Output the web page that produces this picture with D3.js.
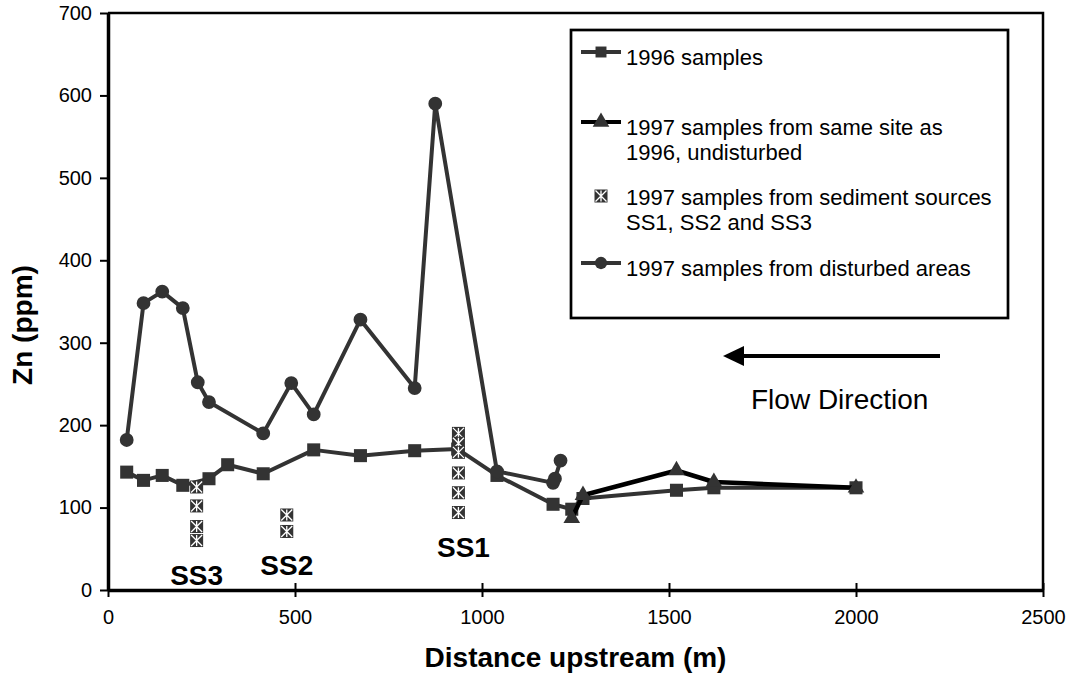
<!DOCTYPE html>
<html>
<head>
<meta charset="utf-8">
<script src="https://cdn.jsdelivr.net/npm/d3@7/dist/d3.min.js"></script>
<style>
  body { margin: 0; background: #fff; }
  svg text { font-family: Arial, "Liberation Sans", sans-serif; fill: #000; }
</style>
</head>
<body>
<div id="chart"></div>
<script>
// 1996 samples
const dist1996 = [50, 95, 145, 200, 270, 320, 415, 550, 675, 820, 935, 1040, 1190, 1240, 1270, 1520, 1620, 2000];
const zn1996 = [143, 133, 139, 127, 135, 152, 141, 170, 163, 169, 171, 139, 104, 98, 111, 121, 124, 124];

// 1997 samples, same site as 1996
const dist1997 = [1240, 1270, 1520, 1620, 2000];
const zn1997 = [87, 115, 145, 131, 124];

// 1997 samples from disturbed areas
const distDisturbed = [50, 95, 145, 200, 240, 270, 415, 490, 550, 675, 820, 875, 1040, 1190, 1195, 1210];
const znDisturbed = [182, 348, 362, 342, 252, 228, 190, 251, 213, 328, 245, 590, 144, 130, 135, 157];

// sediment sources
const sources = ["SS1", "SS2", "SS3"];
const sourceDist = [937, 478, 237];
const sourceZn = [
  [190, 178, 167, 142, 118, 94],
  [91, 71],
  [125, 102, 77, 60]
];

const xTicks = [0, 500, 1000, 1500, 2000, 2500];
const yTicks = [0, 100, 200, 300, 400, 500, 600, 700];

const W = 1072, H = 676;
const plot = { left: 108, right: 1043, top: 13, bottom: 590 };

const svg = d3.select("#chart").append("svg")
  .attr("width", W).attr("height", H);

const x = d3.scaleLinear().domain([0, 2500]).range([plot.left, plot.right]);
const y = d3.scaleLinear().domain([0, 700]).range([plot.bottom, plot.top]);

// plot frame (top / right)
svg.append("path")
  .attr("d", `M${plot.left},${plot.top}H${plot.right}V${plot.bottom}`)
  .attr("fill", "none").attr("stroke", "#000").attr("stroke-width", 2.5);

// axes
const xAxis = svg.append("g")
  .attr("transform", `translate(0,${plot.bottom})`)
  .call(d3.axisBottom(x).tickValues(xTicks).tickSizeOuter(0).tickFormat(d3.format("d")));
xAxis.selectAll(".tick line").attr("y1", -7).attr("y2", 7).attr("stroke-width", 2);
xAxis.selectAll(".tick text").attr("y", 20).attr("dy", "0.71em").style("font-size", "20px");

const yAxis = svg.append("g")
  .attr("transform", `translate(${plot.left},0)`)
  .call(d3.axisLeft(y).tickValues(yTicks).tickSize(8).tickSizeOuter(0));
yAxis.selectAll(".tick line").attr("stroke-width", 2);
yAxis.selectAll(".tick text").attr("x", -16).style("font-size", "20px");

[xAxis, yAxis].forEach(g => {
  g.select(".domain").attr("stroke-width", 3.5).attr("stroke", "#000");
  g.selectAll(".tick line").attr("stroke", "#000");
});

// axis titles
svg.append("text")
  .attr("x", (plot.left + plot.right) / 2).attr("y", 667)
  .attr("text-anchor", "middle")
  .style("font-size", "28px").style("font-weight", "bold")
  .text("Distance upstream (m)");

svg.append("text")
  .attr("transform", "translate(32,325) rotate(-90)")
  .attr("text-anchor", "middle")
  .style("font-size", "28px").style("font-weight", "bold")
  .text("Zn (ppm)");

// marker helpers
const grey = "#333333";
const sym = (type, size) => d3.symbol().type(type).size(size)();

function ssMarker(g, cx, cy) {
  const s = 6.5;
  const m = g.append("g").attr("transform", `translate(${cx},${cy})`);
  m.append("rect").attr("x", -s).attr("y", -s).attr("width", 2 * s).attr("height", 2 * s).attr("fill", grey);
  m.append("path")
    .attr("d", `M${-s + 1},${-s + 1}L${s - 1},${s - 1}M${s - 1},${-s + 1}L${-s + 1},${s - 1}M0,${-s + 1}V${s - 1}`)
    .attr("stroke", "#fff").attr("stroke-width", 1.3);
}

const line = d3.line().x(d => x(d[0])).y(d => y(d[1]));

// 1996 series
const pts1996 = dist1996.map((d, i) => [d, zn1996[i]]);
svg.append("path").datum(pts1996).attr("d", line)
  .attr("fill", "none").attr("stroke", grey).attr("stroke-width", 4).attr("stroke-linejoin", "round");
svg.append("g").selectAll("path").data(pts1996).join("path")
  .attr("d", sym(d3.symbolSquare, 170))
  .attr("transform", d => `translate(${x(d[0])},${y(d[1])})`)
  .attr("fill", grey);

// disturbed series
const ptsDist = distDisturbed.map((d, i) => [d, znDisturbed[i]]);
svg.append("path").datum(ptsDist).attr("d", line)
  .attr("fill", "none").attr("stroke", grey).attr("stroke-width", 4).attr("stroke-linejoin", "round");
svg.append("g").selectAll("path").data(ptsDist).join("path")
  .attr("d", sym(d3.symbolCircle, 150))
  .attr("transform", d => `translate(${x(d[0])},${y(d[1])})`)
  .attr("fill", grey);

// 1997 same site series
const pts1997 = dist1997.map((d, i) => [d, zn1997[i]]);
svg.append("path").datum(pts1997).attr("d", line)
  .attr("fill", "none").attr("stroke", "#000").attr("stroke-width", 4.5).attr("stroke-linejoin", "round");
svg.append("g").selectAll("path").data(pts1997).join("path")
  .attr("d", sym(d3.symbolTriangle, 120))
  .attr("transform", d => `translate(${x(d[0])},${y(d[1])})`)
  .attr("fill", grey);

// sediment sources
const ssG = svg.append("g");
sources.forEach((name, i) => {
  sourceZn[i].forEach(v => ssMarker(ssG, x(sourceDist[i]), y(v)));
  svg.append("text")
    .attr("x", x(sourceDist[i]) + (i === 0 ? 5 : 0))
    .attr("y", y(d3.min(sourceZn[i])) + 44)
    .attr("text-anchor", "middle")
    .style("font-size", "28px").style("font-weight", "bold")
    .text(name);
});

// legend
const lg = svg.append("g");
lg.append("rect").attr("x", 571).attr("y", 30).attr("width", 437).attr("height", 288)
  .attr("fill", "#fff").attr("stroke", "#000").attr("stroke-width", 2.7);

const legendItems = [
  { lines: ["1996 samples"], y: 52, kind: "square" },
  { lines: ["1997 samples from same site as", "1996, undisturbed"], y: 122, kind: "triangle" },
  { lines: ["1997 samples from sediment sources", "SS1, SS2 and SS3"], y: 196, kind: "ss" },
  { lines: ["1997 samples from disturbed areas"], y: 263, kind: "circle" }
];
legendItems.forEach(it => {
  if (it.kind !== "ss") {
    lg.append("line").attr("x1", 581).attr("x2", 621).attr("y1", it.y).attr("y2", it.y)
      .attr("stroke", it.kind === "triangle" ? "#000" : grey).attr("stroke-width", 4);
    const t = it.kind === "square" ? d3.symbolSquare : it.kind === "triangle" ? d3.symbolTriangle : d3.symbolCircle;
    lg.append("path").attr("d", sym(t, 120))
      .attr("transform", `translate(601,${it.y})`).attr("fill", grey);
  } else {
    ssMarker(lg, 601, it.y);
  }
  const base = it.kind === "ss" ? 205 : it.y + 13;
  it.lines.forEach((s, j) => {
    lg.append("text").attr("x", 626).attr("y", base + j * 25)
      .style("font-size", "22px").text(s);
  });
});

// flow direction arrow
svg.append("line").attr("x1", 940).attr("x2", 740).attr("y1", 356).attr("y2", 356)
  .attr("stroke", "#000").attr("stroke-width", 4);
svg.append("path").attr("d", "M723,356L744,346L744,366Z").attr("fill", "#000");
svg.append("text").attr("x", 751).attr("y", 409)
  .style("font-size", "28px").text("Flow Direction");
</script>
</body>
</html>
